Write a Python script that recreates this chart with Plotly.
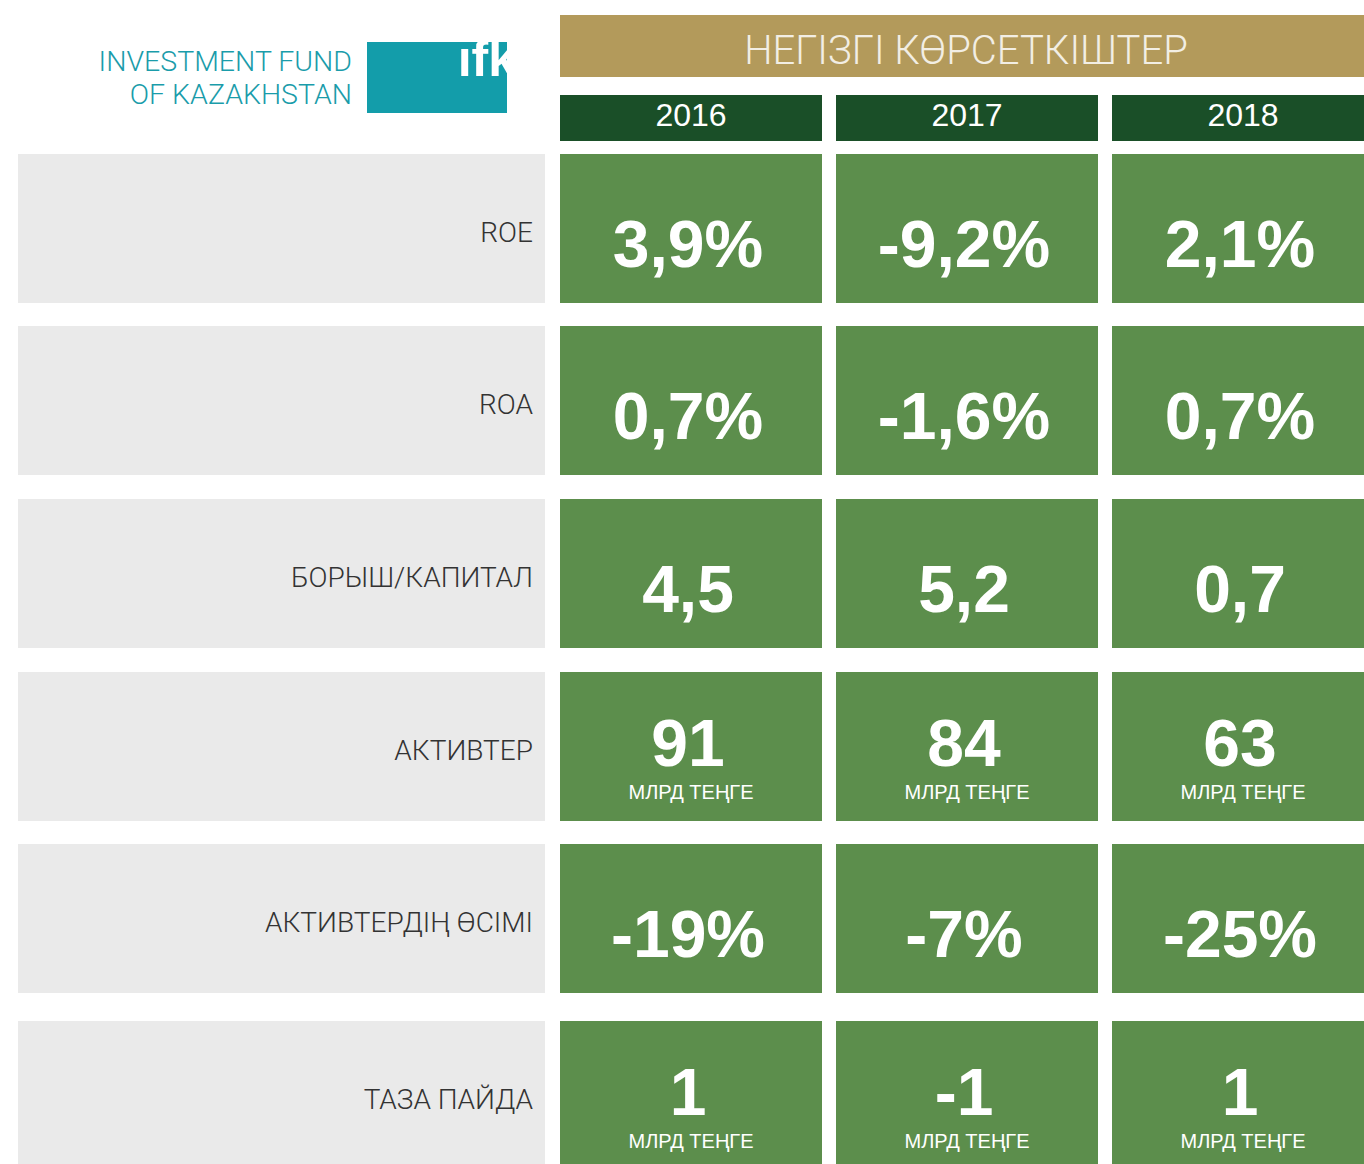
import plotly.graph_objects as go

# ---------------- data ----------------
years = ["2016", "2017", "2018"]
indicators = ["ROE", "ROA", "БОРЫШ/КАПИТАЛ", "АКТИВТЕР", "АКТИВТЕРДІҢ ӨСІМІ", "ТАЗА ПАЙДА"]
roe = ["3,9%", "-9,2%", "2,1%"]
roa = ["0,7%", "-1,6%", "0,7%"]
debt_equity = ["4,5", "5,2", "0,7"]
assets = ["91", "84", "63"]
assets_growth = ["-19%", "-7%", "-25%"]
net_profit = ["1", "-1", "1"]
units = ["", "", "", "МЛРД ТЕҢГЕ", "", "МЛРД ТЕҢГЕ"]
title = "НЕГІЗГІ КӨРСЕТКІШТЕР"
logo_lines = ["INVESTMENT FUND", "OF KAZAKHSTAN"]
logo_mark = "ıfk"

rows = [roe, roa, debt_equity, assets, assets_growth, net_profit]

# ---------------- layout constants ----------------
W, H = 1364, 1164
GOLD = "#B39A5B"
DARK = "#1A4F28"
GREEN = "#5C8E4C"
GREY = "#EAEAEA"
TEAL = "#139DAA"
FONT = "Liberation Sans"

col_x0 = [560, 836, 1112]
col_w = 262
row_y0 = [154, 326, 499, 672, 844, 1021]
row_h = 149
lab_x0, lab_x1 = 18, 545

fig = go.Figure()
shapes = []

# logo box
shapes.append(dict(type="rect", x0=367, x1=507, y0=42, y1=113, fillcolor=TEAL, line_width=0, layer="below"))
# header
shapes.append(dict(type="rect", x0=560, x1=W + 5, y0=15, y1=77, fillcolor=GOLD, line_width=0, layer="below"))
for j, x0 in enumerate(col_x0):
    shapes.append(dict(type="rect", x0=x0, x1=x0 + col_w, y0=95, y1=141, fillcolor=DARK, line_width=0, layer="below"))

for i, y0 in enumerate(row_y0):
    shapes.append(dict(type="rect", x0=lab_x0, x1=lab_x1, y0=y0, y1=y0 + row_h, fillcolor=GREY, line_width=0, layer="below"))
    for j, x0 in enumerate(col_x0):
        shapes.append(dict(type="rect", x0=x0, x1=x0 + col_w, y0=y0, y1=y0 + row_h, fillcolor=GREEN, line_width=0, layer="below"))

# white mask to clip the logo mark at the box edge
shapes.append(dict(type="rect", x0=507, x1=553, y0=30, y1=125, fillcolor="white", line_width=0, layer="above"))

# logo mark (trace so it is under the mask)
fig.add_trace(go.Scatter(x=[516], y=[63], mode="text", text=[logo_mark], textposition="middle left",
                         textfont=dict(family=FONT, size=50, color="white", weight="bold"),
                         hoverinfo="skip", showlegend=False))

# logo lines
fig.add_trace(go.Scatter(x=[352, 352], y=[64, 97], mode="text", text=logo_lines, textposition="middle left",
                         textfont=dict(family="Roboto", size=28.5, color="#1A9CAA", weight=300),
                         hoverinfo="skip", showlegend=False))

# title
fig.add_trace(go.Scatter(x=[966], y=[54], mode="text", text=[title], textposition="middle center",
                         textfont=dict(family="Roboto", size=40, color="#F2EEE4", weight=300),
                         hoverinfo="skip", showlegend=False))

# years
fig.add_trace(go.Scatter(x=[x0 + col_w / 2 for x0 in col_x0], y=[118] * 3, mode="text", text=years,
                         textposition="middle center",
                         textfont=dict(family=FONT, size=32, color="white"),
                         hoverinfo="skip", showlegend=False))

# labels
fig.add_trace(go.Scatter(x=[533] * len(indicators), y=[y0 + 81 for y0 in row_y0], mode="text", text=indicators,
                         textposition="middle left",
                         textfont=dict(family="Roboto", size=28, color="#333333", weight=300),
                         hoverinfo="skip", showlegend=False))

# values
vx, vy, vt, ux, uy, ut = [], [], [], [], [], []
for i, (y0, vals) in enumerate(zip(row_y0, rows)):
    for j, x0 in enumerate(col_x0):
        cx = x0 + col_w / 2 - 3
        if units[i]:
            vx.append(cx); vy.append(y0 + 77); vt.append(vals[j])
            ux.append(cx + 3); uy.append(y0 + 122); ut.append(units[i])
        else:
            vx.append(cx); vy.append(y0 + 96); vt.append(vals[j])

fig.add_trace(go.Scatter(x=vx, y=vy, mode="text", text=vt, textposition="middle center",
                         textfont=dict(family=FONT, size=66, color="white", weight="bold"),
                         hoverinfo="skip", showlegend=False))
fig.add_trace(go.Scatter(x=ux, y=uy, mode="text", text=ut, textposition="middle center",
                         textfont=dict(family=FONT, size=20, color="white"),
                         hoverinfo="skip", showlegend=False))

fig.update_layout(
    width=W, height=H,
    margin=dict(l=0, r=0, t=0, b=0),
    paper_bgcolor="white", plot_bgcolor="white",
    shapes=shapes,
    xaxis=dict(range=[0, W], visible=False, fixedrange=True),
    yaxis=dict(range=[H, 0], visible=False, fixedrange=True),
    showlegend=False,
)

fig.write_html("out.html", config={"displayModeBar": False},
               post_script="document.body.style.margin='0';document.body.style.overflow='hidden';")
